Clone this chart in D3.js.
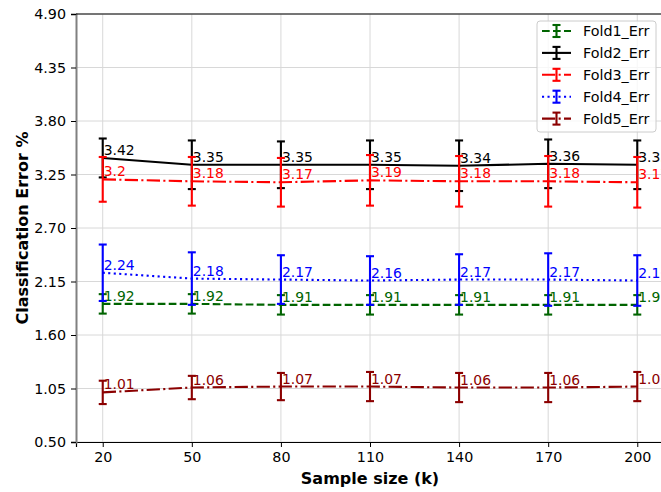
<!DOCTYPE html>
<html>
<head>
<meta charset="utf-8">
<script src="https://cdn.jsdelivr.net/npm/d3@7"></script>
<style>
  body { margin: 0; background: #fff; }
  text { font-family: "DejaVu Sans", sans-serif; }
</style>
</head>
<body>
<div id="chart"></div>
<script>
// chart data
let sampleSizes = [20, 50, 80, 110, 140, 170, 200];
let yTicks = [0.50, 1.05, 1.60, 2.15, 2.70, 3.25, 3.80, 4.35, 4.90];

let fold1 = [1.92, 1.92, 1.91, 1.91, 1.91, 1.91, 1.91];
let fold1Err = [0.10, 0.10, 0.10, 0.10, 0.10, 0.10, 0.10];
let fold2 = [3.42, 3.35, 3.35, 3.35, 3.34, 3.36, 3.35];
let fold2Err = [0.20, 0.25, 0.24, 0.25, 0.26, 0.25, 0.25];
let fold3 = [3.2, 3.18, 3.17, 3.19, 3.18, 3.18, 3.17];
let fold3Err = [0.23, 0.25, 0.25, 0.26, 0.26, 0.26, 0.26];
let fold4 = [2.24, 2.18, 2.17, 2.16, 2.17, 2.17, 2.16];
let fold4Err = [0.29, 0.27, 0.25, 0.25, 0.26, 0.27, 0.26];
let fold5 = [1.01, 1.06, 1.07, 1.07, 1.06, 1.06, 1.07];
let fold5Err = [0.12, 0.12, 0.14, 0.15, 0.15, 0.15, 0.15];

let seriesNames = ['Fold1_Err', 'Fold2_Err', 'Fold3_Err', 'Fold4_Err', 'Fold5_Err'];

// styles for each series
let styles = [
    {color: '#006400', dash: '7.7,3.3'},
    {color: '#000000', dash: null},
    {color: '#ff0000', dash: '13.3,3.3,2.1,3.3'},
    {color: '#0000ff', dash: '2.1,3.4'},
    {color: '#8b0000', dash: '13.3,3.3,2.1,3.3'}
];

let series = [
    {name: seriesNames[0], vals: fold1, errs: fold1Err},
    {name: seriesNames[1], vals: fold2, errs: fold2Err},
    {name: seriesNames[2], vals: fold3, errs: fold3Err},
    {name: seriesNames[3], vals: fold4, errs: fold4Err},
    {name: seriesNames[4], vals: fold5, errs: fold5Err}
];

let svgWidth = 661;
let svgHeight = 492;
let margin = {top: 14, left: 76, right: -3, bottom: 50};
let width = svgWidth - margin.left - margin.right;
let height = svgHeight - margin.top - margin.bottom;

let svg = d3.select('#chart')
    .append('svg')
    .attr('width', svgWidth)
    .attr('height', svgHeight);

let g = svg.append('g')
    .attr('transform', `translate(${margin.left}, ${margin.top})`);

let x = d3.scaleLinear().domain([11, 209]).range([0, width]);
let y = d3.scaleLinear().domain([0.5, 4.9]).range([height, 0]);

// grid
g.append('g').selectAll('line')
    .data(yTicks)
    .enter().append('line')
    .attr('x1', 0).attr('x2', width)
    .attr('y1', d => y(d)).attr('y2', d => y(d))
    .attr('stroke', '#d8d8d8').attr('stroke-width', 1);
g.append('g').selectAll('line')
    .data(sampleSizes)
    .enter().append('line')
    .attr('x1', d => x(d)).attr('x2', d => x(d))
    .attr('y1', 0).attr('y2', height)
    .attr('stroke', '#d8d8d8').attr('stroke-width', 1);

// axes
let xAxis = g.append('g')
    .attr('transform', `translate(0, ${height})`)
    .call(d3.axisBottom(x).tickValues(sampleSizes).tickSizeOuter(0).tickSize(5).tickPadding(5));
let yAxis = g.append('g')
    .call(d3.axisLeft(y).tickValues(yTicks).tickFormat(d3.format('.2f')).tickSizeOuter(0).tickSize(5).tickPadding(5));

[xAxis, yAxis].forEach(a => {
    a.selectAll('text').attr('font-size', '14.3px').attr('fill', '#000')
        .attr('font-family', '"DejaVu Sans", sans-serif');
    a.selectAll('.tick line').attr('stroke', '#000').attr('stroke-width', 1);
});
xAxis.select('.domain').attr('stroke', '#000').attr('stroke-width', 1.2);
yAxis.select('.domain').attr('stroke', '#808080').attr('stroke-width', 2);

// top spine
g.append('line')
    .attr('x1', 0).attr('x2', width)
    .attr('y1', 0).attr('y2', 0)
    .attr('stroke', '#000').attr('stroke-width', 1.2);

// series: line, error bars, value labels
let line = d3.line()
    .x((d, i) => x(sampleSizes[i]))
    .y(d => y(d));

let cap = 4;
series.forEach((s, k) => {
    let st = styles[k];
    let sg = g.append('g');
    sg.append('path')
        .datum(s.vals)
        .attr('d', line)
        .attr('fill', 'none')
        .attr('stroke', st.color)
        .attr('stroke-width', 2.1)
        .attr('stroke-dasharray', st.dash);

    let bars = sg.selectAll('.bar')
        .data(s.vals)
        .enter().append('g');
    bars.append('line')
        .attr('x1', (d, i) => x(sampleSizes[i])).attr('x2', (d, i) => x(sampleSizes[i]))
        .attr('y1', (d, i) => y(d - s.errs[i])).attr('y2', (d, i) => y(d + s.errs[i]))
        .attr('stroke', st.color).attr('stroke-width', 2.1);
    bars.append('line')
        .attr('x1', (d, i) => x(sampleSizes[i]) - cap).attr('x2', (d, i) => x(sampleSizes[i]) + cap)
        .attr('y1', (d, i) => y(d + s.errs[i])).attr('y2', (d, i) => y(d + s.errs[i]))
        .attr('stroke', st.color).attr('stroke-width', 2.1);
    bars.append('line')
        .attr('x1', (d, i) => x(sampleSizes[i]) - cap).attr('x2', (d, i) => x(sampleSizes[i]) + cap)
        .attr('y1', (d, i) => y(d - s.errs[i])).attr('y2', (d, i) => y(d - s.errs[i]))
        .attr('stroke', st.color).attr('stroke-width', 2.1);

    sg.selectAll('.lbl')
        .data(s.vals)
        .enter().append('text')
        .attr('x', (d, i) => x(sampleSizes[i]) + 1)
        .attr('y', d => y(d) - 3)
        .attr('font-size', '13.9px')
        .attr('fill', st.color)
        .text(d => String(d));
});

// axis labels
svg.append('text')
    .attr('x', margin.left + x(110))
    .attr('y', 484)
    .attr('text-anchor', 'middle')
    .attr('font-size', '16px')
    .attr('font-weight', 'bold')
    .text('Sample size (k)');
svg.append('text')
    .attr('transform', `translate(28, ${margin.top + height / 2}) rotate(-90)`)
    .attr('text-anchor', 'middle')
    .attr('font-size', '16px')
    .attr('font-weight', 'bold')
    .text('Classification Error %');

// legend
let legend = svg.append('g').attr('transform', 'translate(537, 21)');
legend.append('rect')
    .attr('width', 119).attr('height', 111)
    .attr('rx', 3).attr('ry', 3)
    .attr('fill', 'rgba(255,255,255,0.8)')
    .attr('stroke', '#cccccc').attr('stroke-width', 1);
series.forEach((s, k) => {
    let st = styles[k];
    let ly = 10 + k * 21.9;
    let row = legend.append('g').attr('transform', `translate(0, ${ly})`);
    row.append('line')
        .attr('x1', 5).attr('x2', 34).attr('y1', 0).attr('y2', 0)
        .attr('stroke', st.color).attr('stroke-width', 2.1)
        .attr('stroke-dasharray', st.dash);
    row.append('line')
        .attr('x1', 19.5).attr('x2', 19.5).attr('y1', -6).attr('y2', 6)
        .attr('stroke', st.color).attr('stroke-width', 2.1);
    row.append('line')
        .attr('x1', 15.5).attr('x2', 23.5).attr('y1', -6).attr('y2', -6)
        .attr('stroke', st.color).attr('stroke-width', 2.1);
    row.append('line')
        .attr('x1', 15.5).attr('x2', 23.5).attr('y1', 6).attr('y2', 6)
        .attr('stroke', st.color).attr('stroke-width', 2.1);
    row.append('text')
        .attr('x', 46).attr('y', 5)
        .attr('font-size', '14.3px')
        .attr('fill', '#000')
        .text(s.name);
});
</script>
</body>
</html>
